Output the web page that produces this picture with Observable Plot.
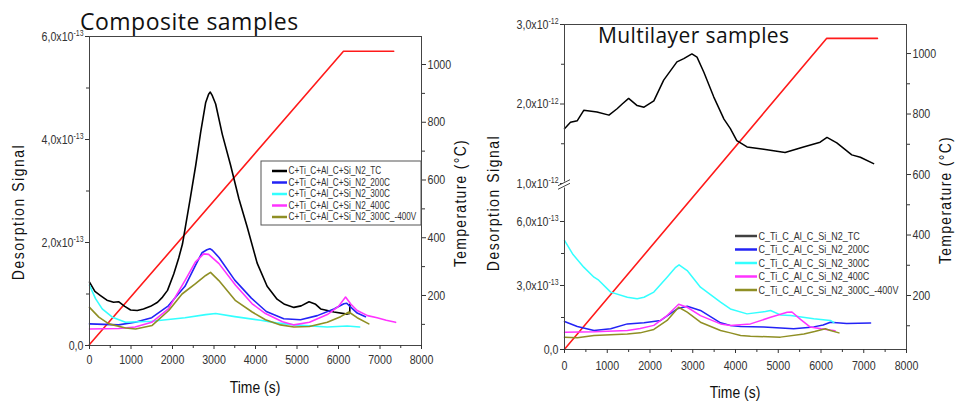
<!DOCTYPE html>
<html><head><meta charset="utf-8">
<script src="https://cdn.jsdelivr.net/npm/d3@7"></script>
<script src="https://cdn.jsdelivr.net/npm/@observablehq/plot@0.6"></script>
<style>
body{margin:0;background:#fff;}
#wrap{position:relative;width:956px;height:401px;overflow:hidden;background:#fff;}
#left,#right{position:absolute;top:0;}
#left{left:0}
#right{left:478px}
</style></head><body>
<div id="wrap"><div id="left"></div><div id="right"></div></div>
<script>
// ---------------- DATA ----------------
const seriesKeys = ["TC", "200C", "300C", "400C", "300C_-400V"];
const compLegend = ["C+Ti_C+Al_C+Si_N2_TC","C+Ti_C+Al_C+Si_N2_200C","C+Ti_C+Al_C+Si_N2_300C","C+Ti_C+Al_C+Si_N2_400C","C+Ti_C+Al_C+Si_N2_300C_-400V"];
const multLegend = ["C_Ti_C_Al_C_Si_N2_TC","C_Ti_C_Al_C_Si_N2_200C","C_Ti_C_Al_C_Si_N2_300C","C_Ti_C_Al_C_Si_N2_400C","C_Ti_C_Al_C_Si_N2_300C_-400V"];
const seriesColors = ["#000000", "#2323f5", "#33ffff", "#ff33ff", "#8f8f24"];
const legendSwatchMult = ["#404040", "#2323f5", "#33ffff", "#ff33ff", "#8f8f24"];

// Composite samples (signal in units of 1e-13)
const compT_TC = [0,130,265,420,580,700,850,990,1150,1300,1470,1640,1760,1880,2030,2150,2240,2420,2560,2680,2800,2870,2910,2960,3040,3200,3400,3600,3800,4040,4280,4520,4700,4925,5100,5290,5450,5570,5890,6210,6270,6275];
const compV_TC = [1.23,1.05,0.97,0.88,0.84,0.85,0.76,0.69,0.68,0.71,0.76,0.84,0.94,1.07,1.39,1.70,1.97,2.82,3.50,4.15,4.72,4.88,4.92,4.85,4.69,4.10,3.50,2.85,2.30,1.60,1.15,0.90,0.80,0.74,0.77,0.85,0.80,0.71,0.65,0.61,0.62,0.80];
const compT_200 = [0,700,1100,1500,1900,2300,2550,2710,2830,2900,2960,3120,3500,3900,4260,4680,5085,5490,5890,6130,6200,6276,6450,6650];
const compV_200 = [0.42,0.40,0.45,0.54,0.77,1.15,1.55,1.80,1.86,1.88,1.85,1.71,1.27,0.92,0.66,0.52,0.50,0.58,0.71,0.81,0.82,0.76,0.63,0.56];
const compT_300 = [0,145,306,550,870,1500,2300,2800,3040,3500,4120,4500,4925,5730,6210,6510];
const compV_300 = [1.17,0.91,0.71,0.55,0.45,0.47,0.54,0.60,0.62,0.56,0.49,0.44,0.40,0.36,0.38,0.36];
const compT_400 = [0,700,1100,1500,1900,2300,2550,2750,2870,3120,3520,3920,4240,4650,4925,5300,5730,6000,6170,6300,6450,6700,6930,7150,7375];
const compV_400 = [0.32,0.33,0.36,0.45,0.71,1.26,1.62,1.78,1.77,1.59,1.17,0.81,0.62,0.46,0.40,0.45,0.60,0.76,0.94,0.80,0.68,0.58,0.54,0.49,0.45];
const compT_400V = [0,225,466,870,1110,1510,1910,2230,2555,2800,2916,3117,3520,3920,4240,4600,4925,5300,5730,6050,6250,6450,6730];
const compV_400V = [0.74,0.55,0.42,0.34,0.32,0.39,0.68,1.00,1.20,1.36,1.42,1.26,0.87,0.65,0.50,0.40,0.36,0.37,0.45,0.56,0.65,0.54,0.42];
const compTempTime = [0, 6120, 7330];
const compTempC = [30, 1046, 1046];

// Multilayer samples (TC in units of 1e-12, others in units of 1e-13)
const multT_TC = [0,140,300,450,760,1040,1230,1350,1500,1700,1860,2090,2320,2630,2790,2980,3100,3260,3490,3730,3880,4030,4270,4660,5160,5590,5980,6140,6370,6720,6920,7230];
const multV_TC = [1.69,1.77,1.79,1.92,1.90,1.86,1.94,2.00,2.07,1.98,1.96,2.04,2.30,2.53,2.57,2.63,2.59,2.40,2.09,1.81,1.69,1.54,1.46,1.43,1.39,1.46,1.52,1.58,1.51,1.36,1.33,1.25];
const multT_200 = [0,300,690,1080,1470,1860,2250,2640,2870,3180,3650,3880,4120,4660,5360,5830,6050,6220,6600,7160];
const multV_200 = [1.31,1.08,0.89,0.97,1.20,1.25,1.36,1.91,2.03,1.83,1.25,1.13,1.08,1.05,0.97,1.06,1.15,1.28,1.22,1.24];
const multT_300 = [0,200,450,690,800,1080,1470,1700,1860,2090,2400,2600,2680,2870,3180,3650,3880,4270,4700,4820,5050,5290,5830,6220,6300];
const multV_300 = [5.11,4.45,3.86,3.39,3.25,2.69,2.45,2.38,2.45,2.69,3.39,3.85,3.97,3.70,2.92,2.22,1.90,1.67,1.78,1.83,1.62,1.59,1.44,1.36,1.26];
const multT_400 = [0,700,1470,1770,2090,2400,2670,2870,3180,3650,3880,4350,4820,5210,5320,5520,5750,6000,6330];
const multV_400 = [0.81,0.83,0.89,0.98,1.13,1.59,2.12,1.98,1.59,1.20,1.13,1.20,1.51,1.75,1.76,1.41,1.05,0.97,0.88];
const multT_400V = [0,300,690,1470,1770,2090,2400,2670,2870,3180,3650,3880,4120,4350,5050,5600,5850,6100,6220,6420];
const multV_400V = [0.58,0.55,0.66,0.73,0.78,0.94,1.36,1.98,1.75,1.28,0.89,0.78,0.66,0.62,0.58,0.73,0.84,0.97,0.89,0.78];
const multTempTime = [0, 6130, 7320];
const multTempC = [22, 1050, 1050];

// Tick labels
const xTicks = [0,1000,2000,3000,4000,5000,6000,7000,8000];
const xMinor = [500,1500,2500,3500,4500,5500,6500,7500];
const compYTicks = [0, 2e-13, 4e-13, 6e-13];
const compYTickLabels = ["0,0", "2,0x10^-13", "4,0x10^-13", "6,0x10^-13"];
const compYMinor = [1e-13, 3e-13, 5e-13];
const multYTicks = [0, 3e-13, 6e-13, 1e-12, 2e-12, 3e-12];
const multYTickLabels = ["0,0", "3,0x10^-13", "6,0x10^-13", "1,0x10^-12", "2,0x10^-12", "3,0x10^-12"];
const multYMinor = [1.5e-13, 4.5e-13, 1.5e-12, 2.5e-12];
const tempTicks = [200, 400, 600, 800, 1000];
const tempMinor = [100, 300, 500, 700, 900];

// ---------------- HELPERS ----------------
const NARROW = "'Liberation Sans Narrow','Arial Narrow','Liberation Sans',Arial,sans-serif";
const TITLEF = "'Open Sans','Noto Sans',sans-serif";
const SQUEEZE = 0.82;

function table(times, vals, key, unit) {
  return times.map((t, i) => ({t, v: vals[i] * unit, s: key}));
}
function supify(svg) {
  const ns = "http://www.w3.org/2000/svg";
  svg.querySelectorAll("text").forEach(t => {
    const s = t.textContent;
    if (s.includes("^")) {
      const [base, exp] = s.split("^");
      t.textContent = "";
      const a = document.createElementNS(ns, "tspan"); a.textContent = base; t.appendChild(a);
      const b = document.createElementNS(ns, "tspan"); b.textContent = exp;
      b.setAttribute("dy", "-0.5em"); b.setAttribute("font-size", "0.65em"); t.appendChild(b);
    }
  });
}
// horizontally condense Plot's tick labels (narrow font look)
function condense(svg) {
  svg.querySelectorAll("text").forEach(t => {
    if (t.classList.contains("keep")) return;
    const tr = t.getAttribute("transform");
    if (tr) { t.setAttribute("transform", tr + ` scale(${SQUEEZE},1)`); }
    else {
      const x = parseFloat(t.getAttribute("x")) || 0;
      t.setAttribute("x", 0);
      t.setAttribute("transform", `translate(${x},0) scale(${SQUEEZE},1)`);
    }
  });
}
function addText(svg, o) {
  d3.select(svg).append("text").attr("class", "keep")
    .attr("transform", `translate(${o.x},${o.y}) rotate(${o.rotate || 0}) scale(${o.sx || 1},1)`)
    .attr("text-anchor", o.anchor || "middle")
    .attr("dominant-baseline", o.baseline || "central")
    .attr("fill", o.fill || "#111")
    .style("font-family", o.family || NARROW)
    .style("font-size", o.size + "px")
    .style("letter-spacing", (o.spacing || 0) + "px")
    .text(o.text);
}
function legend(svg, labels, colors, x0, x1, y0, dy, size) {
  const g = d3.select(svg).append("g");
  labels.forEach((lab, i) => {
    const yy = y0 + i * dy;
    g.append("line").attr("x1", x0).attr("x2", x1).attr("y1", yy).attr("y2", yy).attr("stroke", colors[i]).attr("stroke-width", 2.5);
    g.append("text").attr("class", "keep").attr("transform", `translate(${x1 + 1.5},${yy}) scale(${SQUEEZE},1)`)
      .attr("text-anchor", "start").attr("dominant-baseline", "central").attr("fill", "#333")
      .style("font-family", NARROW).style("font-size", size + "px").text(lab);
  });
}

// ---------------- LEFT: Composite ----------------
{
  const W = 478, H = 401, mL = 89, mR = 57, mT = 36, mB = 56;
  const YMAX = 6e-13, T0 = 26.8, T1 = 1097;
  const toY = T => (T - T0) / (T1 - T0) * YMAX;
  const fromY = y => T0 + y / YMAX * (T1 - T0);
  const u = 1e-13;
  const data = [
    ...table(compT_TC, compV_TC, seriesKeys[0], u),
    ...table(compT_200, compV_200, seriesKeys[1], u),
    ...table(compT_300, compV_300, seriesKeys[2], u),
    ...table(compT_400, compV_400, seriesKeys[3], u),
    ...table(compT_400V, compV_400V, seriesKeys[4], u)
  ];
  const temp = compTempTime.map((t, i) => ({t, y: toY(compTempC[i])}));
  const svg = Plot.plot({
    width: W, height: H, marginLeft: mL, marginRight: mR, marginTop: mT, marginBottom: mB,
    style: {fontFamily: NARROW, fontSize: "13px", color: "#333", background: "#fff"},
    x: {domain: [0, 8000]},
    y: {domain: [0, YMAX]},
    color: {domain: seriesKeys, range: seriesColors},
    marks: [
      Plot.line(temp, {x: "t", y: "y", stroke: "#ff1a1a", strokeWidth: 1.6}),
      Plot.line(data, {x: "t", y: "v", z: "s", stroke: "s", strokeWidth: 1.6}),
      Plot.frame({stroke: "#444"}),
      Plot.axisX({ticks: xTicks, tickSize: 4, tickPadding: 5, label: null, tickFormat: d => String(d)}),
      Plot.axisX({ticks: xMinor, tickSize: 3, label: null, tickFormat: () => ""}),
      Plot.axisY({ticks: compYTicks, tickSize: 4, tickPadding: 2, label: null, tickFormat: d => compYTickLabels[compYTicks.indexOf(d)]}),
      Plot.axisY({ticks: compYMinor, tickSize: 3, label: null, tickFormat: () => ""}),
      Plot.axisY({anchor: "right", ticks: tempTicks.map(toY), tickSize: 4, tickPadding: 2, label: null, tickFormat: d => String(Math.round(fromY(d)))}),
      Plot.axisY({anchor: "right", ticks: tempMinor.map(toY), tickSize: 3, label: null, tickFormat: () => ""})
    ]
  });
  supify(svg);
  condense(svg);
  d3.select(svg).append("rect").attr("x", 261).attr("y", 161).attr("width", 160).attr("height", 64).attr("fill", "#fff").attr("stroke", "#555");
  legend(svg, compLegend, seriesColors, 272, 287, 171, 11.5, 10);
  addText(svg, {x: 80, y: 30, text: "Composite samples", size: 23, family: TITLEF, anchor: "start", baseline: "alphabetic", fill: "#111", spacing: 0.5});
  addText(svg, {x: 18, y: 212, text: "Desorption Signal", size: 17, rotate: -90, spacing: 1.9, sx: SQUEEZE});
  addText(svg, {x: 460, y: 203, text: "Temperature (°C)", size: 17, rotate: -90, spacing: 1.6, sx: SQUEEZE});
  addText(svg, {x: 255, y: 387, text: "Time (s)", size: 17, sx: SQUEEZE});
  document.getElementById("left").appendChild(svg);
}

// ---------------- RIGHT: Multilayer ----------------
{
  const W = 478, H = 401, mL = 86, mR = 50, mT = 24, mB = 52;
  const yDomain = [0, 7.64e-13, 1e-12, 3e-12];
  const yRange = [349, 186, 183, 24];
  const pxToY = d3.scaleLinear().domain(yRange).range(yDomain);
  const T0 = 21.5, T1 = 1096;
  const tempToPx = T => yRange[0] - (T - T0) / (T1 - T0) * (yRange[0] - yRange[3]);
  const pxToTemp = p => T0 + (yRange[0] - p) / (yRange[0] - yRange[3]) * (T1 - T0);
  const yToPx = d3.scaleLinear().domain(yDomain).range(yRange);
  const toY = T => pxToY(tempToPx(T));
  const fromY = y => pxToTemp(yToPx(y));
  const data = [
    ...table(multT_TC, multV_TC, seriesKeys[0], 1e-12),
    ...table(multT_200, multV_200, seriesKeys[1], 1e-13),
    ...table(multT_300, multV_300, seriesKeys[2], 1e-13),
    ...table(multT_400, multV_400, seriesKeys[3], 1e-13),
    ...table(multT_400V, multV_400V, seriesKeys[4], 1e-13)
  ];
  const temp = multTempTime.map((t, i) => ({t, y: toY(multTempC[i])}));
  const svg = Plot.plot({
    width: W, height: H, marginLeft: mL, marginRight: mR, marginTop: mT, marginBottom: mB,
    style: {fontFamily: NARROW, fontSize: "13px", color: "#333", background: "#fff"},
    x: {domain: [0, 8000]},
    y: {type: "linear", domain: yDomain, range: yRange},
    color: {domain: seriesKeys, range: seriesColors},
    marks: [
      Plot.line(temp, {x: "t", y: "y", stroke: "#ff1a1a", strokeWidth: 1.6}),
      Plot.line(data, {x: "t", y: "v", z: "s", stroke: "s", strokeWidth: 1.5}),
      Plot.frame({stroke: "#444"}),
      Plot.axisX({ticks: xTicks, tickSize: 4, tickPadding: 7, label: null, tickFormat: d => String(d)}),
      Plot.axisX({ticks: xMinor, tickSize: 3, label: null, tickFormat: () => ""}),
      Plot.axisY({ticks: multYTicks, tickSize: 4, tickPadding: 2, label: null, tickFormat: d => multYTickLabels[multYTicks.indexOf(d)]}),
      Plot.axisY({ticks: multYMinor, tickSize: 3, label: null, tickFormat: () => ""}),
      Plot.axisY({anchor: "right", ticks: tempTicks.map(toY), tickSize: 4, tickPadding: 2, label: null, tickFormat: d => String(Math.round(fromY(d)))}),
      Plot.axisY({anchor: "right", ticks: tempMinor.map(toY), tickSize: 3, label: null, tickFormat: () => ""})
    ]
  });
  supify(svg);
  condense(svg);
  const ys = svg.scale("y");
  const ymid = (ys.apply(yDomain[1]) + ys.apply(yDomain[2])) / 2;
  const g = d3.select(svg).append("g");
  g.append("rect").attr("x", mL - 1.5).attr("y", ymid - 3).attr("width", 3).attr("height", 6).attr("fill", "#fff");
  [-1.8, 1.8].forEach(o => {
    g.append("line").attr("x1", mL - 6).attr("x2", mL + 6).attr("y1", ymid + o + 3).attr("y2", ymid + o - 3)
      .attr("stroke", "#444").attr("stroke-width", 1);
  });
  legend(svg, multLegend, legendSwatchMult, 257, 279, 236, 13.5, 11);
  addText(svg, {x: 120, y: 43, text: "Multilayer samples", size: 21, family: TITLEF, anchor: "start", baseline: "alphabetic", fill: "#111", spacing: 0.4});
  addText(svg, {x: 15, y: 203, text: "Desorption Signal", size: 17, rotate: -90, spacing: 1.9, sx: SQUEEZE});
  addText(svg, {x: 467, y: 200, text: "Temperature (°C)", size: 17, rotate: -90, spacing: 1.6, sx: SQUEEZE});
  addText(svg, {x: 257, y: 392, text: "Time (s)", size: 17, sx: SQUEEZE});
  document.getElementById("right").appendChild(svg);
}
</script>
</body></html>
